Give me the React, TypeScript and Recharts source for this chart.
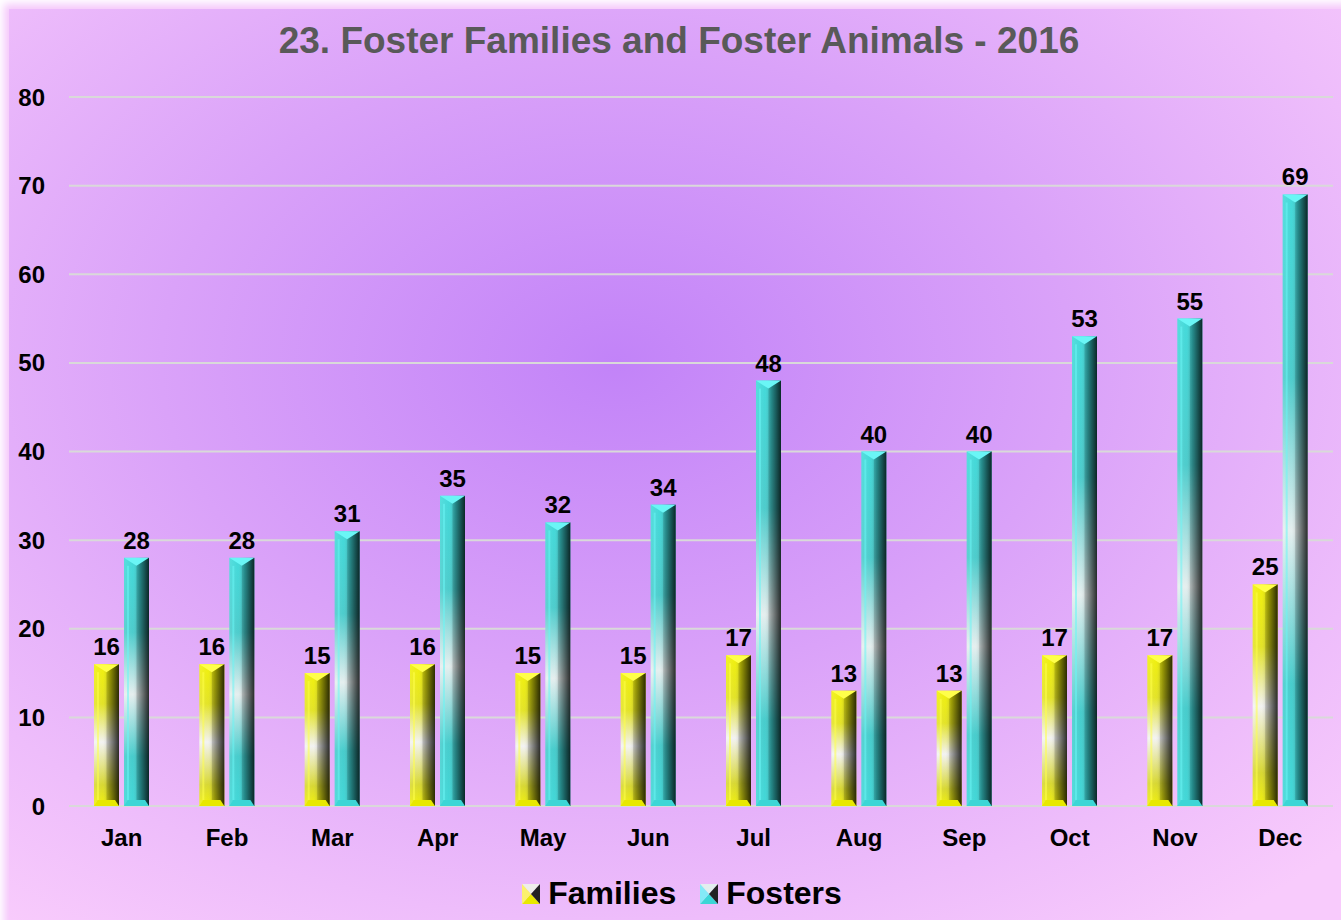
import React from "react";
import { Bar, BarChart, CartesianGrid, LabelList, Legend, XAxis, YAxis } from "recharts";

const months = ["Jan", "Feb", "Mar", "Apr", "May", "Jun", "Jul", "Aug", "Sep", "Oct", "Nov", "Dec"];
const families = [16, 16, 15, 16, 15, 15, 17, 13, 13, 17, 17, 25];
const fosters = [28, 28, 31, 35, 32, 34, 48, 40, 40, 53, 55, 69];
const yTicks = [0, 10, 20, 30, 40, 50, 60, 70, 80];

const data = months.map((m, i) => ({ month: m, families: families[i], fosters: fosters[i] }));

const FONT = "'Liberation Sans', Arial, sans-serif";

const palettes: Record<string, { base: string; bright: string; light: string }> = {
  fam: { base: "#e8e800", bright: "#ffff4a", light: "#eeeeea" },
  fos: { base: "#3cd6d6", bright: "#6af6f6", light: "#e2eeee" },
};

function bevelBar(key: string) {
  return (props: any) => {
    const { x, y, width: w, height: h } = props;
    if (!h || h <= 0) return null;
    const p = palettes[key];
    const cap = Math.min(8, h / 3);
    return (
      <g>
        <rect x={x} y={y} width={w} height={h} fill={`url(#${key}V)`} />
        <rect x={x} y={y} width={w} height={h} fill={`url(#${key}H)`} />
        <rect x={x + 3} y={y + cap} width={2} height={h - cap - 6} fill={p.bright} opacity={0.55} />
        <polygon points={`${x},${y} ${x + w},${y} ${x + w / 2},${y + cap}`} fill={p.bright} />
        <polygon points={`${x + w},${y} ${x + w / 2},${y + cap} ${x + w / 2},${y + h} ${x + w},${y + h}`} fill="#000" opacity={0.15} />
        <polygon points={`${x},${y + h} ${x + w},${y + h} ${x + w - 4},${y + h - 6} ${x + 4},${y + h - 6}`} fill={p.base} />
      </g>
    );
  };
}

function LegendIcon({ k }: { k: string }) {
  const p = palettes[k];
  return (
    <svg width={18} height={20} style={{ marginRight: 8 }}>
      <polygon points="0,0 18,0 9,10" fill={p.light} />
      <polygon points="0,20 18,20 9,10" fill={p.base} />
      <polygon points="0,0 0,20 9,10" fill={p.bright} opacity={0.8} />
      <polygon points="18,0 18,20 9,10" fill="#222" />
    </svg>
  );
}

function renderLegend() {
  const items = [
    { k: "fam", label: "Families" },
    { k: "fos", label: "Fosters" },
  ];
  return (
    <div style={{ display: "flex", justifyContent: "center", alignItems: "center", paddingTop: 15, marginLeft: 31 }}>
      {items.map((it) => (
        <div key={it.k} style={{ display: "flex", alignItems: "center", margin: "0 12px" }}>
          <LegendIcon k={it.k} />
          <span style={{ fontFamily: FONT, fontWeight: "bold", fontSize: 32, color: "#000" }}>{it.label}</span>
        </div>
      ))}
    </div>
  );
}

const tickStyle = { fontFamily: FONT, fontWeight: "bold", fontSize: 24, fill: "#000" };

export default function App() {
  return (
    <div style={{ position: "absolute", left: 0, top: 0, width: 1341, height: 920, background: "#fff", overflow: "hidden" }}>
      <div
        style={{
          position: "absolute",
          left: 9,
          top: 9,
          width: 1350,
          height: 930,
          background: "radial-gradient(ellipse 75% 75% at 45% 38%, #c283f8 0%, #daa2f9 45%, #eebdfb 80%, #f8cbfc 100%)",
          boxShadow: "0 0 8px 5px #f5c8fb",
        }}
      />
      <div
        style={{
          position: "absolute",
          left: 0,
          top: 20,
          width: 1358,
          textAlign: "center",
          fontFamily: FONT,
          fontWeight: "bold",
          fontSize: 37,
          color: "#595959",
        }}
      >
        23. Foster Families and Foster Animals - 2016
      </div>
      <div style={{ position: "absolute", left: 0, top: 0 }}>
        <BarChart
          width={1341}
          height={920}
          data={data}
          margin={{ top: 97, right: 8, left: 0, bottom: 0 }}
          barSize={25}
          barGap={5}
        >
          <defs>
            <linearGradient id="famV" x1="0" y1="0" x2="0" y2="1">
              <stop offset="0%" stopColor="#f0f000" />
              <stop offset="28%" stopColor="#e2e21c" />
              <stop offset="55%" stopColor="#f2f2f2" />
              <stop offset="85%" stopColor="#d6d628" />
              <stop offset="100%" stopColor="#f0f000" />
            </linearGradient>
            <linearGradient id="famH" x1="0" y1="0" x2="1" y2="0">
              <stop offset="0%" stopColor="#ffffff" stopOpacity={0.15} />
              <stop offset="35%" stopColor="#ffffff" stopOpacity={0.05} />
              <stop offset="60%" stopColor="#000000" stopOpacity={0.22} />
              <stop offset="100%" stopColor="#000000" stopOpacity={0.78} />
            </linearGradient>
            <linearGradient id="fosV" x1="0" y1="0" x2="0" y2="1">
              <stop offset="0%" stopColor="#3ad8d8" />
              <stop offset="30%" stopColor="#44caca" />
              <stop offset="55%" stopColor="#e4eeee" />
              <stop offset="80%" stopColor="#3ecaca" />
              <stop offset="100%" stopColor="#38d6d6" />
            </linearGradient>
            <linearGradient id="fosH" x1="0" y1="0" x2="1" y2="0">
              <stop offset="0%" stopColor="#ffffff" stopOpacity={0.15} />
              <stop offset="35%" stopColor="#ffffff" stopOpacity={0.05} />
              <stop offset="60%" stopColor="#000000" stopOpacity={0.22} />
              <stop offset="100%" stopColor="#000000" stopOpacity={0.78} />
            </linearGradient>
          </defs>
          <CartesianGrid vertical={false} stroke="#d9d9d9" strokeWidth={2} />
          <XAxis
            dataKey="month"
            axisLine={false}
            tickLine={false}
            tickSize={0}
            tickMargin={23}
            height={54}
            tick={tickStyle}
            interval={0}
          />
          <YAxis
            domain={[0, 80]}
            ticks={yTicks}
            axisLine={false}
            tickLine={false}
            tickSize={0}
            tickMargin={24}
            width={69}
            tick={tickStyle}
          />
          <Legend verticalAlign="bottom" height={60} content={renderLegend} />
          <Bar dataKey="families" name="Families" shape={bevelBar("fam")} isAnimationActive={false}>
            <LabelList dataKey="families" position="top" offset={9} style={tickStyle} />
          </Bar>
          <Bar dataKey="fosters" name="Fosters" shape={bevelBar("fos")} isAnimationActive={false}>
            <LabelList dataKey="fosters" position="top" offset={9} style={tickStyle} />
          </Bar>
        </BarChart>
      </div>
    </div>
  );
}
